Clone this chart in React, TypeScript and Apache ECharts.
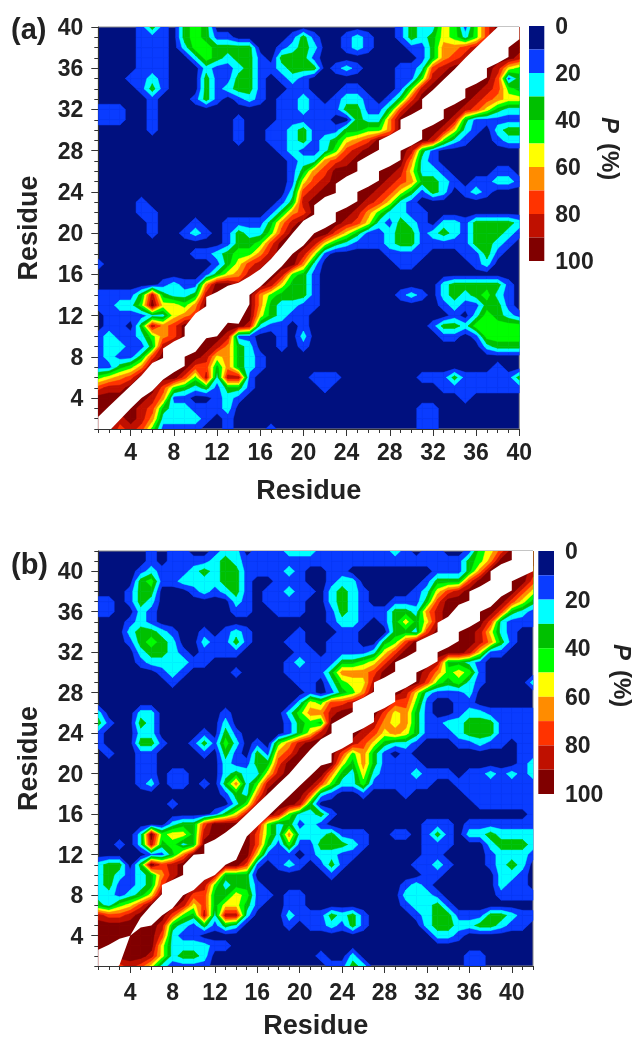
import React, { useEffect, useRef } from "react";
import * as echarts from "echarts";

// Contact probability bands per residue pair, one digit per residue (0 = 0-10 %, 9 = 90-100 %).
// Rows run from the top residue down to residue 1; columns from residue 1 to the right.
const panelARows = [
  "0000131034 3000000000 0000000013 2254147999",
  "0000111034 3110000013 1001210013 2354247999",
  "0000111024 4333300123 2001210001 1366789999",
  "0000111002 4323310333 1000000000 1367899998",
  "0000111000 2112311233 3012100011 2789999854",
  "0001121000 3113310121 0000000011 4899999713",
  "0000131000 3123310011 0001100014 8999998743",
  "0000010001 3101210112 1012210137 9999987655",
  "1110010000 0000000112 1113311379 9999875322",
  "1110010000 0001000111 1100322699 9998311111",
  "0000010000 0001001123 1113344699 9985210233",
  "0000000000 0001001123 1235679999 9842100122",
  "0000000000 0000000121 1247899998 3100000000",
  "0000000000 0000000012 2678999996 2100000000",
  "0000000000 0000000013 6799999985 2210000110",
  "0000000000 0000000015 7899999876 3321011221",
  "0000000000 0000000027 8999998753 1320121000",
  "0000100000 0000000138 9999987521 0000000000",
  "0000110000 0000001367 9999864221 1000000000",
  "0000010001 0011113689 9998752132 1022133332",
  "0000010012 1013224799 9975311233 1232133321",
  "0000000000 0013347999 8532111233 1111133210",
  "0000000001 1234468998 5100000111 1000113100",
  "1000000000 0135789996 2000000011 0000012000",
  "0000000000 1356899843 1000000000 0000000000",
  "0000001211 6998998533 1000000000 0023333310",
  "1111383223 8999964333 1000000012 1023234210",
  "1122495546 9999963221 1000000000 0012113310",
  "0111122567 9999953211 0000000000 0001024321",
  "0110386799 9999821101 0000000000 0133244444",
  "1211246799 9981100102 0000000000 0011014444",
  "1221138999 9863200101 0000000000 0000002333",
  "1211379999 8563210000 0000000000 0000000000",
  "1134699997 7363210000 0000000000 0000000100",
  "4567999974 8288100000 1110000000 1113111113",
  "7889997432 3133100000 0100000000 0011111111",
  "9999986110 0121000000 0000000000 0000100000",
  "9999873221 1120000000 0000000000 1100000000",
  "9989862222 1010000000 0000000000 1100000000",
  "9978741111 0010001000 0000000000 1100000000",
];

const panelBRows = [
  "0000010110 0122011122 2111111121 011001457999",
  "0000010111 1232111111 1111111111 111113469999",
  "0000121112 3233111121 0011000000 001113699998",
  "0000341122 2233100111 0012200000 013337999997",
  "0001330001 2123101121 1023210000 125789999975",
  "1101320000 0002101111 0023210011 137999999753",
  "1100210000 0001100111 0013211133 268999997321",
  "0001210000 0000000000 0012210135 358999972111",
  "0002332100 1012100001 0001100033 279999852100",
  "0001343200 2113100011 0011100347 999999863100",
  "0000233210 1111000001 1011112579 999998511000",
  "0000122221 1000000012 1113345799 998332100000",
  "0000001210 0001000011 1136667999 986454100000",
  "0000000100 0000000001 1024558999 974342100002",
  "0000000000 0000000000 1013469998 521112000000",
  "0000000000 0000000002 5477899977 410011000000",
  "2000220000 0010000024 6689999756 310012211111",
  "3100320000 0020000013 4399998656 311223331111",
  "1000220000 1031000013 5899987565 311123331111",
  "1000331001 3142010468 9999875322 100011211011",
  "0100110000 1031031679 9997463101 000000000011",
  "0000110000 0021133799 9995363111 100000000012",
  "0000110110 0023225899 9963252111 211101121212",
  "0000120110 1036248999 9742241111 110011111111",
  "0000000000 0013269999 7210010001 000001111111",
  "0000000100 0002489998 3000000000 000000111111",
  "0000000000 0135899842 2310000000 000000000001",
  "0000000233 7999984231 2100000000 011101111111",
  "0000294553 8999974262 2231110011 013102232222",
  "0010283423 9999973141 1333210000 011100023332",
  "0000011369 9999951110 1221100000 011000012221",
  "2330397899 9999710121 0131000000 112100012320",
  "2321236899 9833300000 0010000000 011000002210",
  "2311237999 8423310000 0000000001 210000002110",
  "2212359997 7335411011 0000000002 221000001111",
  "3245799985 7355310011 0000000001 223100000000",
  "8778999743 8288200021 1132310000 123311133211",
  "9999998321 3132000010 1121310000 023322332110",
  "9999997211 0000000000 0000000000 002210000000",
  "9999995222 2110000000 0000000000 000000000000",
  "9999985233 2000000000 0100200000 000001100000",
  "9978752111 1000000000 0011320000 000001100000",
];

// Blank diagonal: edge offset from the diagonal per residue, and the residues where the edge steps.
const upperEdgeA = [1.2,1.2,1.2,1.2,1.2,1.4,1.8,1.5,1.9,2.2,2.8,2.3,1.9,1.2,0.8,0.5,0.5,0.7,1.0,1.2,1.7,1.5,1.8,1.5,1.9,1.5,2,1.5,2,1.5,2,1.9,1.9,1.9,2,2,2,2,2,2];
const lowerEdgeA = [-1.2,-1.2,-1.1,-1,-1,-1.3,-1.2,-1.5,-1,-1.5,-1.2,-2,-1.7,-2.8,-1,-1.2,-1.2,-1.2,-1,-1.2,-1,-1.5,-1,-1.5,-1,-1.5,-1,-1.5,-1,-1.5,-1,-1.5,-1,-1.5,-1,-1.5,-1,-1.5,-1,-1.2];
const upperStepsA = [7,9,11,21,23,25,27,29,31];
const lowerStepsA = [9,15,23,25,27,29,31,33,35,37,39];
const upperEdgeB = [1.6,1.1,0.7,0,0.8,1,2,1.5,1.9,2,2,1.5,1.2,1,1,1,1,1,1,1.2,1.4,1.4,1.9,1.5,2,1.5,2,1.5,2,1.5,2,1.5,1.9,1.5,1.7,2,1.5,2,1.7,2,2,2];
const lowerEdgeB = [-1.9,-1.9,-1.9,0,-0.2,-1,-1,-1.3,-1,-1.5,-1.5,-2,-2,-2.5,-1.2,-1.2,-1.2,-1.2,-1.2,-1.2,-1.2,-1.2,-1,-1.5,-1,-1.5,-1,-1.5,-1,-1.5,-1,-1.5,-1,-1.5,-1,-1.5,-1,-1.5,-1.5,-1,-1.5,-2];
const upperStepsB = [7,9,11,23,25,27,29,31,33,36,38,40];
const lowerStepsB = [23,25,27,29,31,33,35,37,40];

const bandColors = ["#00107f","#0a3cff","#00ffff","#00c000","#00ff00","#ffff00","#ff8c00","#ff3300","#bf1000","#800000"];
const bandEdges = [0,10,20,30,40,50,60,70,80,90,100];
const legendTicks = [0,20,40,60,80,100];
const labelledResidues = [4,8,12,16,20,24,28,32,36,40];
const axisTitle = "Residue";
const legendTitle = "(%)";

const FONT = '"Liberation Sans", Arial, sans-serif';
const TEXT = "#222";

function parseRows(rows: string[]) {
  const clean = rows.map((r) => r.replace(/ /g, ""));
  const n = clean.length;
  return (x: number, y: number) => {
    const row = clean[n - y];
    const ch = row ? row[x - 1] : undefined;
    return ch === undefined ? 5 : Number(ch) * 10 + 5;
  };
}

function clipCell(corners: number[][], level: number) {
  const out: number[][] = [];
  for (let i = 0; i < corners.length; i++) {
    const a = corners[i];
    const b = corners[(i + 1) % corners.length];
    const ina = a[2] >= level;
    const inb = b[2] >= level;
    if (ina) out.push([a[0], a[1]]);
    if (ina !== inb) {
      const t = (level - a[2]) / (b[2] - a[2]);
      out.push([a[0] + t * (b[0] - a[0]), a[1] + t * (b[1] - a[1])]);
    }
  }
  return out;
}

// One series per band, painted from the lowest band up, so that neighbouring cells never show seams.
function contourSeries(rows: string[], index: number) {
  const n = rows.length;
  const value = parseRows(rows);
  const cornersOf = (x: number, y: number) => [
    [x, y, value(x, y)],
    [x + 1, y, value(x + 1, y)],
    [x + 1, y + 1, value(x + 1, y + 1)],
    [x, y + 1, value(x, y + 1)],
  ];
  const list: any[] = [];
  for (let b = 1; b < bandColors.length; b++) {
    const level = bandEdges[b];
    const cells: number[][] = [];
    for (let y = 1; y < n; y++) {
      for (let x = 1; x < n; x++) {
        if (cornersOf(x, y).some((c) => c[2] >= level)) cells.push([x, y]);
      }
    }
    list.push({
      type: "custom",
      xAxisIndex: index,
      yAxisIndex: index,
      clip: true,
      silent: true,
      progressive: 0,
      encode: { x: 0, y: 1 },
      data: cells,
      renderItem: (_: any, api: any) => {
        const pts = clipCell(cornersOf(api.value(0), api.value(1)), level);
        return {
          type: "polygon",
          shape: { points: pts.map((p) => api.coord(p)) },
          style: { fill: bandColors[b], stroke: bandColors[b], lineWidth: 0.5 },
        };
      },
    });
  }
  return list;
}

function blankSeries(upper: number[], lower: number[], upSteps: number[], lowSteps: number[], index: number) {
  return {
    type: "custom",
    xAxisIndex: index,
    yAxisIndex: index,
    clip: true,
    silent: true,
    encode: { x: 0, y: 1 },
    data: [[1, 1]],
    renderItem: (_: any, api: any) => {
      const pts: number[][] = [];
      upper.forEach((u, i) => {
        const x = i + 1;
        if (upSteps.includes(x)) pts.push([x, x + u - 0.9]);
        pts.push([x, x + u]);
      });
      for (let i = lower.length - 1; i >= 0; i--) {
        const x = i + 1;
        pts.push([x, x + lower[i]]);
        if (lowSteps.includes(x)) pts.push([x, x + lower[i] - 0.9]);
      }
      return {
        type: "polygon",
        shape: { points: pts.map((p) => api.coord(p)) },
        style: { fill: "#ffffff" },
      };
    },
  };
}

function legendSeries(index: number) {
  return {
    type: "custom",
    xAxisIndex: index,
    yAxisIndex: index,
    silent: true,
    encode: { x: 0, y: [1, 2] },
    data: bandColors.map((_, i) => [0, bandEdges[i], bandEdges[i + 1]]),
    renderItem: (p: any, api: any) => {
      const a = api.coord([0, api.value(1)]);
      const b = api.coord([1, api.value(2)]);
      return {
        type: "rect",
        shape: { x: a[0], y: a[1], width: b[0] - a[0], height: b[1] - a[1] },
        style: { fill: bandColors[p.dataIndex] },
      };
    },
  };
}

const allResidues = (n: number) => Array.from({ length: n }, (_, i) => i + 1);

function residueAxes(n: number, gridIndex: number, xGap: number, yGap: number, xMargin: number) {
  const common = { type: "value", gridIndex, min: 1, max: n, interval: 1, splitLine: { show: false } };
  const line = { show: true, lineStyle: { color: "#333", width: 1 } };
  const label = {
    show: true,
    customValues: labelledResidues,
    fontFamily: FONT,
    fontWeight: "bold",
    fontSize: 23,
    color: TEXT,
  };
  const name = {
    name: axisTitle,
    nameLocation: "middle",
    nameMoveOverlap: false,
    nameTextStyle: { fontFamily: FONT, fontWeight: "bold", fontSize: 27, color: TEXT },
  };
  const minor = { show: true, customValues: allResidues(n), length: 4, lineStyle: { color: "#333" } };
  const major = {
    ...common,
    axisLine: { show: false },
    axisLabel: { show: false },
    axisTick: { show: true, customValues: labelledResidues, length: 7, lineStyle: { color: "#333" } },
  };
  return {
    x: [
      { ...common, ...name, nameGap: xGap, position: "bottom", axisLine: line, axisLabel: { ...label, margin: xMargin }, axisTick: minor },
      { ...major, position: "bottom" },
    ],
    y: [
      { ...common, ...name, nameGap: yGap, position: "left", axisLine: line, axisLabel: { ...label, margin: 15 }, axisTick: minor },
      { ...major, position: "left" },
    ],
  };
}

function legendAxes(gridIndex: number) {
  return {
    x: {
      type: "value",
      gridIndex,
      min: 0,
      max: 1,
      show: false,
    },
    y: {
      type: "value",
      gridIndex,
      min: 0,
      max: 100,
      interval: 20,
      inverse: true,
      position: "right",
      splitLine: { show: false },
      axisLine: { show: false },
      axisTick: { show: false },
      axisLabel: {
        margin: 11,
        padding: [4, 0, 0, 0],
        fontFamily: FONT,
        fontWeight: "bold",
        fontSize: 23,
        color: TEXT,
        customValues: legendTicks,
      },
    },
  };
}

function legendTitleGraphic(x: number, y: number) {
  return {
    type: "group",
    x,
    y,
    rotation: -Math.PI / 2,
    children: [
      {
        type: "text",
        x: -32,
        y: 0,
        style: {
          text: "P",
          fontFamily: FONT,
          fontWeight: "bold",
          fontStyle: "italic",
          fontSize: 24,
          fill: TEXT,
          textVerticalAlign: "middle",
        },
      },
      {
        type: "text",
        x: -6,
        y: 0,
        style: {
          text: legendTitle,
          fontFamily: FONT,
          fontWeight: "bold",
          fontSize: 24,
          fill: TEXT,
          textVerticalAlign: "middle",
        },
      },
    ],
  };
}

export default function App() {
  const ref = useRef<HTMLDivElement>(null);
  useEffect(() => {
    const chart = echarts.init(ref.current!, undefined, { renderer: "svg" });
    const a = residueAxes(40, 0, 47, 57, 11);
    const b = residueAxes(42, 1, 45, 57, 14);
    const la = legendAxes(2);
    const lb = legendAxes(3);
    const box = {
      show: true,
      outerBoundsMode: "none",
      containLabel: false,
      backgroundColor: bandColors[0],
      borderColor: "#8a8a8a",
      borderWidth: 1,
    };
    chart.setOption({
      animation: false,
      backgroundColor: "#ffffff",
      grid: [
        { ...box, left: 98.3, top: 27, width: 421, height: 402 },
        { ...box, left: 98.3, top: 551, width: 434.7, height: 415 },
        { outerBoundsMode: "none", left: 529, top: 26, width: 15.3, height: 235 },
        { outerBoundsMode: "none", left: 538.3, top: 551, width: 15.7, height: 243 },
      ],
      xAxis: [...a.x, ...b.x, la.x, lb.x],
      yAxis: [...a.y, ...b.y, la.y, lb.y],
      series: [
        ...contourSeries(panelARows, 0),
        blankSeries(upperEdgeA, lowerEdgeA, upperStepsA, lowerStepsA, 0),
        ...contourSeries(panelBRows, 2),
        blankSeries(upperEdgeB, lowerEdgeB, upperStepsB, lowerStepsB, 2),
        legendSeries(4),
        legendSeries(5),
      ],
      graphic: [
        { type: "text", x: 11, y: 14, style: { text: "(a)", fontFamily: FONT, fontWeight: "bold", fontSize: 29, fill: TEXT } },
        { type: "text", x: 11, y: 549, style: { text: "(b)", fontFamily: FONT, fontWeight: "bold", fontSize: 29, fill: TEXT } },
        legendTitleGraphic(610, 149),
        legendTitleGraphic(622, 676),
      ],
    });
    return () => chart.dispose();
  }, []);
  return (
    <div
      ref={ref}
      style={{ position: "absolute", left: 0, top: 0, width: 638, height: 1040, filter: "blur(0.5px)" }}
    />
  );
}
